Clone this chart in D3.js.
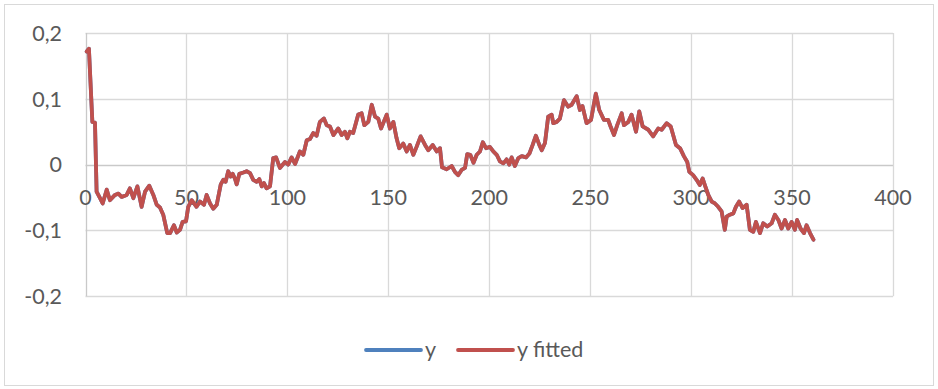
<!DOCTYPE html>
<html>
<head>
<meta charset="utf-8">
<script src="https://cdn.jsdelivr.net/npm/d3@7/dist/d3.min.js"></script>
<style>
  html, body { margin: 0; padding: 0; background: #ffffff; }
  svg { display: block; }
  text { font-family: Lato, "Open Sans", "Liberation Sans", sans-serif; fill: #595959; }
</style>
</head>
<body>
<svg id="chart" width="938" height="389"></svg>
<script>
// Observation index (x) and observed series (y)
const steps = [
  0.6, 1.7, 3.4, 4.7, 5.5, 7.2, 8.5, 10.5, 12.1, 14.6, 16.3, 17.9, 20.4, 22.0, 23.7, 25.7, 27.8, 29.5,
  31.6, 33.6, 35.3, 36.9, 38.5, 40.5, 41.9, 43.8, 45.2, 46.8, 48.1, 49.8, 50.9, 52.6, 55.0, 56.7, 58.7,
  60.0, 61.7, 63.3, 65.0, 67.0, 68.3, 69.4, 70.7, 71.9, 72.9, 74.0, 74.9, 76.2, 78.2, 79.8, 81.5, 83.1,
  84.8, 86.1, 87.3, 88.4, 89.7, 91.4, 93.0, 94.4, 96.3, 98.8, 100.4, 102.1, 103.8, 106.2, 107.9, 109.6,
  111.2, 112.8, 114.5, 116.1, 118.1, 119.5, 121.1, 122.8, 125.2, 126.9, 128.5, 129.7, 131.0, 132.6,
  135.1, 136.8, 138.1, 140.1, 141.8, 143.4, 145.0, 146.4, 149.2, 150.8, 152.5, 154.1, 155.4, 157.4,
  159.1, 160.7, 162.4, 164.0, 166.0, 168.2, 169.8, 172.0, 174.0, 175.6, 176.6, 178.9, 181.4, 183.0,
  184.6, 186.3, 188.0, 189.1, 190.6, 192.2, 193.8, 195.4, 196.8, 198.4, 200.3, 202.0, 203.7, 205.3,
  207.0, 208.6, 209.9, 211.1, 212.7, 214.4, 216.1, 218.2, 219.9, 221.5, 223.1, 224.8, 226.0, 227.6,
  229.2, 230.9, 231.7, 233.4, 235.0, 237.0, 239.1, 240.8, 243.3, 244.9, 246.2, 248.2, 250.4, 252.8,
  254.5, 256.8, 258.9, 260.1, 261.8, 263.4, 265.6, 266.7, 268.9, 270.5, 272.7, 274.3, 276.0, 278.8,
  281.2, 283.7, 285.4, 287.9, 289.9, 292.5, 294.5, 296.4, 298.1, 299.1, 301.0, 302.7, 304.3, 305.7,
  306.8, 308.5, 310.2, 311.8, 313.4, 315.1, 316.7, 317.6, 319.2, 320.9, 322.2, 323.8, 325.5, 327.5,
  329.1, 330.8, 332.1, 334.1, 335.7, 337.7, 339.9, 341.5, 343.2, 344.8, 346.5, 348.1, 349.8, 351.4,
  352.5, 354.2, 355.9, 357.2, 358.9, 360.6
];
const yObserved = [
  0.172, 0.176, 0.065, 0.064, -0.041, -0.051, -0.059, -0.038, -0.054, -0.046, -0.044, -0.049, -0.046, -0.036, -0.051, -0.033, -0.064, -0.041,
  -0.032, -0.046, -0.061, -0.065, -0.076, -0.104, -0.104, -0.092, -0.103, -0.099, -0.087, -0.086, -0.064, -0.054, -0.064, -0.056, -0.061,
  -0.046, -0.059, -0.067, -0.061, -0.030, -0.023, -0.026, -0.010, -0.018, -0.014, -0.021, -0.030, -0.014, -0.012, -0.010, -0.013, -0.023,
  -0.026, -0.022, -0.033, -0.028, -0.036, -0.033, 0.010, 0.011, -0.005, 0.004, 0.000, 0.011, 0.001, 0.020, 0.015, 0.037,
  0.039, 0.048, 0.044, 0.065, 0.070, 0.060, 0.058, 0.045, 0.055, 0.045, 0.050, 0.040, 0.050, 0.048,
  0.076, 0.078, 0.060, 0.065, 0.091, 0.073, 0.070, 0.055, 0.076, 0.055, 0.065, 0.040, 0.025, 0.032,
  0.020, 0.030, 0.015, 0.027, 0.043, 0.030, 0.022, 0.030, 0.020, 0.025, -0.004, -0.007, -0.002, -0.011,
  -0.016, -0.008, -0.005, 0.016, 0.015, 0.003, 0.015, 0.020, 0.034, 0.025, 0.027, 0.020, 0.015, 0.005,
  0.002, 0.008, 0.000, 0.011, -0.002, 0.010, 0.013, 0.011, 0.017, 0.030, 0.044, 0.030, 0.022, 0.033,
  0.073, 0.076, 0.063, 0.065, 0.070, 0.098, 0.088, 0.091, 0.104, 0.083, 0.089, 0.063, 0.068, 0.108,
  0.083, 0.068, 0.068, 0.058, 0.045, 0.060, 0.078, 0.060, 0.065, 0.076, 0.050, 0.081, 0.058, 0.053,
  0.043, 0.055, 0.053, 0.063, 0.058, 0.030, 0.025, 0.013, 0.004, -0.011, -0.016, -0.023, -0.031, -0.021,
  -0.031, -0.046, -0.056, -0.059, -0.064, -0.071, -0.099, -0.079, -0.076, -0.074, -0.064, -0.056, -0.066, -0.061,
  -0.099, -0.102, -0.087, -0.104, -0.089, -0.094, -0.089, -0.076, -0.084, -0.097, -0.084, -0.097, -0.087, -0.099,
  -0.084, -0.097, -0.104, -0.092, -0.104, -0.114
];
// The fitted series coincides with the observations at this scale
const yFitted = yObserved.slice();

const xTicks = [0, 50, 100, 150, 200, 250, 300, 350, 400];
const yTicks = [-0.2, -0.1, 0, 0.1, 0.2];
const seriesNames = ["y", "y fitted"];
const seriesColors = ["#4F81BD", "#C0504D"];

const svg = d3.select("#chart");
const W = 938, H = 389;

// Outer chart frame
svg.append("rect")
  .attr("x", 4.5).attr("y", 4.5)
  .attr("width", W - 9).attr("height", H - 8)
  .attr("fill", "#ffffff").attr("stroke", "#d9d9d9").attr("stroke-width", 1);

const x = d3.scaleLinear().domain([0, 400]).range([85.5, 893]);
const y = d3.scaleLinear().domain([-0.2, 0.2]).range([296.3, 33]);

const locale = d3.formatLocale({ decimal: ",", thousands: " ", grouping: [3], currency: ["", ""], minus: "-" });
const fmtY = v => (v === 0 ? "0" : locale.format(".1f")(v));

// Gridlines
const grid = svg.append("g");
grid.selectAll("line.h").data(yTicks).enter().append("line")
  .attr("x1", x(0)).attr("x2", x(400))
  .attr("y1", d => Math.round(y(d)) + 0.5).attr("y2", d => Math.round(y(d)) + 0.5)
  .attr("stroke", d => d === 0 ? "#c9c9c9" : "#d9d9d9").attr("stroke-width", 1.3);
grid.selectAll("line.v").data(xTicks).enter().append("line")
  .attr("x1", d => Math.round(x(d)) + 0.5).attr("x2", d => Math.round(x(d)) + 0.5)
  .attr("y1", y(0.2)).attr("y2", y(-0.2))
  .attr("stroke", d => d === 0 ? "#c9c9c9" : "#d9d9d9").attr("stroke-width", 1.3);

// Y axis labels
svg.append("g").selectAll("text").data(yTicks).enter().append("text")
  .attr("x", 62).attr("y", d => y(d) + 7.8)
  .attr("text-anchor", "end")
  .style("font-size", "21.5px")
  .text(fmtY);

// X axis labels (axis crosses at zero)
svg.append("g").selectAll("text").data(xTicks).enter().append("text")
  .attr("x", d => x(d)).attr("y", y(0) + 40.5)
  .attr("text-anchor", "middle")
  .style("font-size", "21.5px")
  .text(d => d);

// Series lines
const line = vals => d3.line()
  .x((d, i) => x(steps[i]))
  .y(d => y(d))(vals);

[yObserved, yFitted].forEach((vals, k) => {
  svg.append("path")
    .attr("d", line(vals))
    .attr("fill", "none")
    .attr("stroke", seriesColors[k])
    .attr("stroke-width", 3.8)
    .attr("stroke-linejoin", "round")
    .attr("stroke-linecap", "round");
});

// Legend
const legendItems = [
  { x1: 366, x2: 421, tx: 425 },
  { x1: 458, x2: 513, tx: 517 }
];
const lg = svg.append("g");
legendItems.forEach((it, k) => {
  lg.append("line")
    .attr("x1", it.x1).attr("x2", it.x2)
    .attr("y1", 350).attr("y2", 350)
    .attr("stroke", seriesColors[k]).attr("stroke-width", 3.8)
    .attr("stroke-linecap", "round");
  lg.append("text")
    .attr("x", it.tx).attr("y", 357)
    .style("font-size", "21.5px")
    .text(seriesNames[k]);
});
</script>
</body>
</html>
